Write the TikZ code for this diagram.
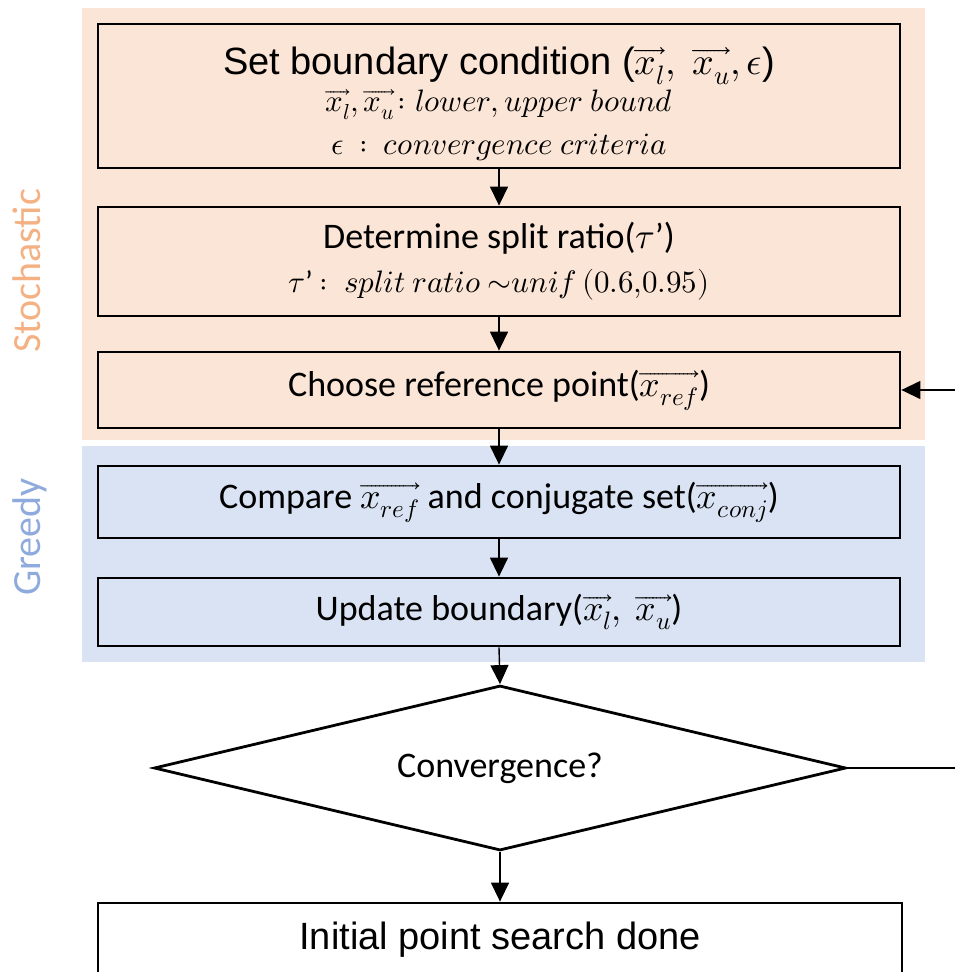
\documentclass[tikz,border=0pt]{standalone}
\usepackage{fontspec}
\usepackage{unicode-math}
\setmathfont{Latin Modern Math}
\setmainfont{Carlito}
\newfontfamily\arialfont{Liberation Sans}
\usetikzlibrary{arrows.meta,shapes.geometric}
\definecolor{stochbg}{HTML}{FBE5D6}
\definecolor{greedybg}{HTML}{DAE3F3}
\definecolor{stochtxt}{HTML}{F4B183}
\definecolor{greedytxt}{HTML}{8FAADC}
\newcommand{\vx}[1]{\overrightarrow{x_{#1}}}
\begin{document}
\begin{tikzpicture}[x=1pt,y=-1pt,
  stepbox/.style={draw=black, line width=2.8pt, minimum width=802pt, inner sep=0pt,
    align=center, font=\fontsize{36}{42}\selectfont},
  flow/.style={draw=black, line width=1.4pt, -{Triangle[length=19pt,width=18pt]}},
  phase/.style={rotate=90, anchor=base, font=\fontsize{40}{48}\selectfont}]
\useasboundingbox (0,0) rectangle (955,972);
% phase backgrounds
\fill[stochbg] (82,8) rectangle (925,440);
\fill[greedybg] (82,446) rectangle (925,662);
\node[phase, text=stochtxt] (stoch) at (40,271) {Stochastic};
\node[phase, text=greedytxt] (greedy) at (40,537) {Greedy};
% process steps
\node[stepbox, minimum height=144pt] (b1) at (499,96)
  {{\arialfont\fontsize{38}{42}\selectfont\rule{0pt}{44pt}Set boundary condition ($\vx{l},\ \vx{u},\epsilon$)}\\[-5pt]
   {\fontsize{31}{38}\selectfont $\vx{l},\vx{u}\!: lower, upper\ bound$}\\[1pt]
   {\fontsize{31}{38}\selectfont $\epsilon\ :\ convergence\ criteria$}};
\node[stepbox, minimum height=109pt] (b2) at (499,261.5)
  {Determine split ratio($\tau$’)\\[2pt]
   {\fontsize{31}{38}\selectfont $\tau$’ $:\ split\ ratio\ {\sim}unif\,(0.6{,}0.95)$}};
\node[stepbox, minimum height=76pt] (b3) at (499,390)
  {Choose reference point($\vx{ref}$)};
\node[stepbox, minimum height=72pt] (b4) at (499,502)
  {Compare $\vx{ref}$ and conjugate set($\vx{conj}$)};
\node[stepbox, minimum height=68pt] (b5) at (499,612)
  {Update boundary($\vx{l},\ \vx{u}$)};
\node[diamond, draw=black, line width=2.8pt, minimum width=692pt, minimum height=165pt,
  inner sep=0pt, shape aspect=4.2, font=\fontsize{36}{42}\selectfont] (dec) at (500,768)
  {Convergence?};
\node[stepbox, minimum width=804pt, minimum height=74pt,
  font=\arialfont\fontsize{38}{44}\selectfont] (done) at (500,940)
  {Initial point search done};
% connectors
\draw[flow] (b1.south) -- (b2.north);
\draw[flow] (b2.south) -- (b3.north);
\draw[flow] (b3.south) -- (b4.north);
\draw[flow] (b4.south) -- (b5.north);
\draw[flow] (b5.south) -- (dec.north);
\draw[flow] (dec.south) -- (done.north);
\coordinate (loopturn) at (962,768);
\draw[flow] (dec.east) -- (dec.east -| loopturn) |- (b3.east);
\end{tikzpicture}
\end{document}
